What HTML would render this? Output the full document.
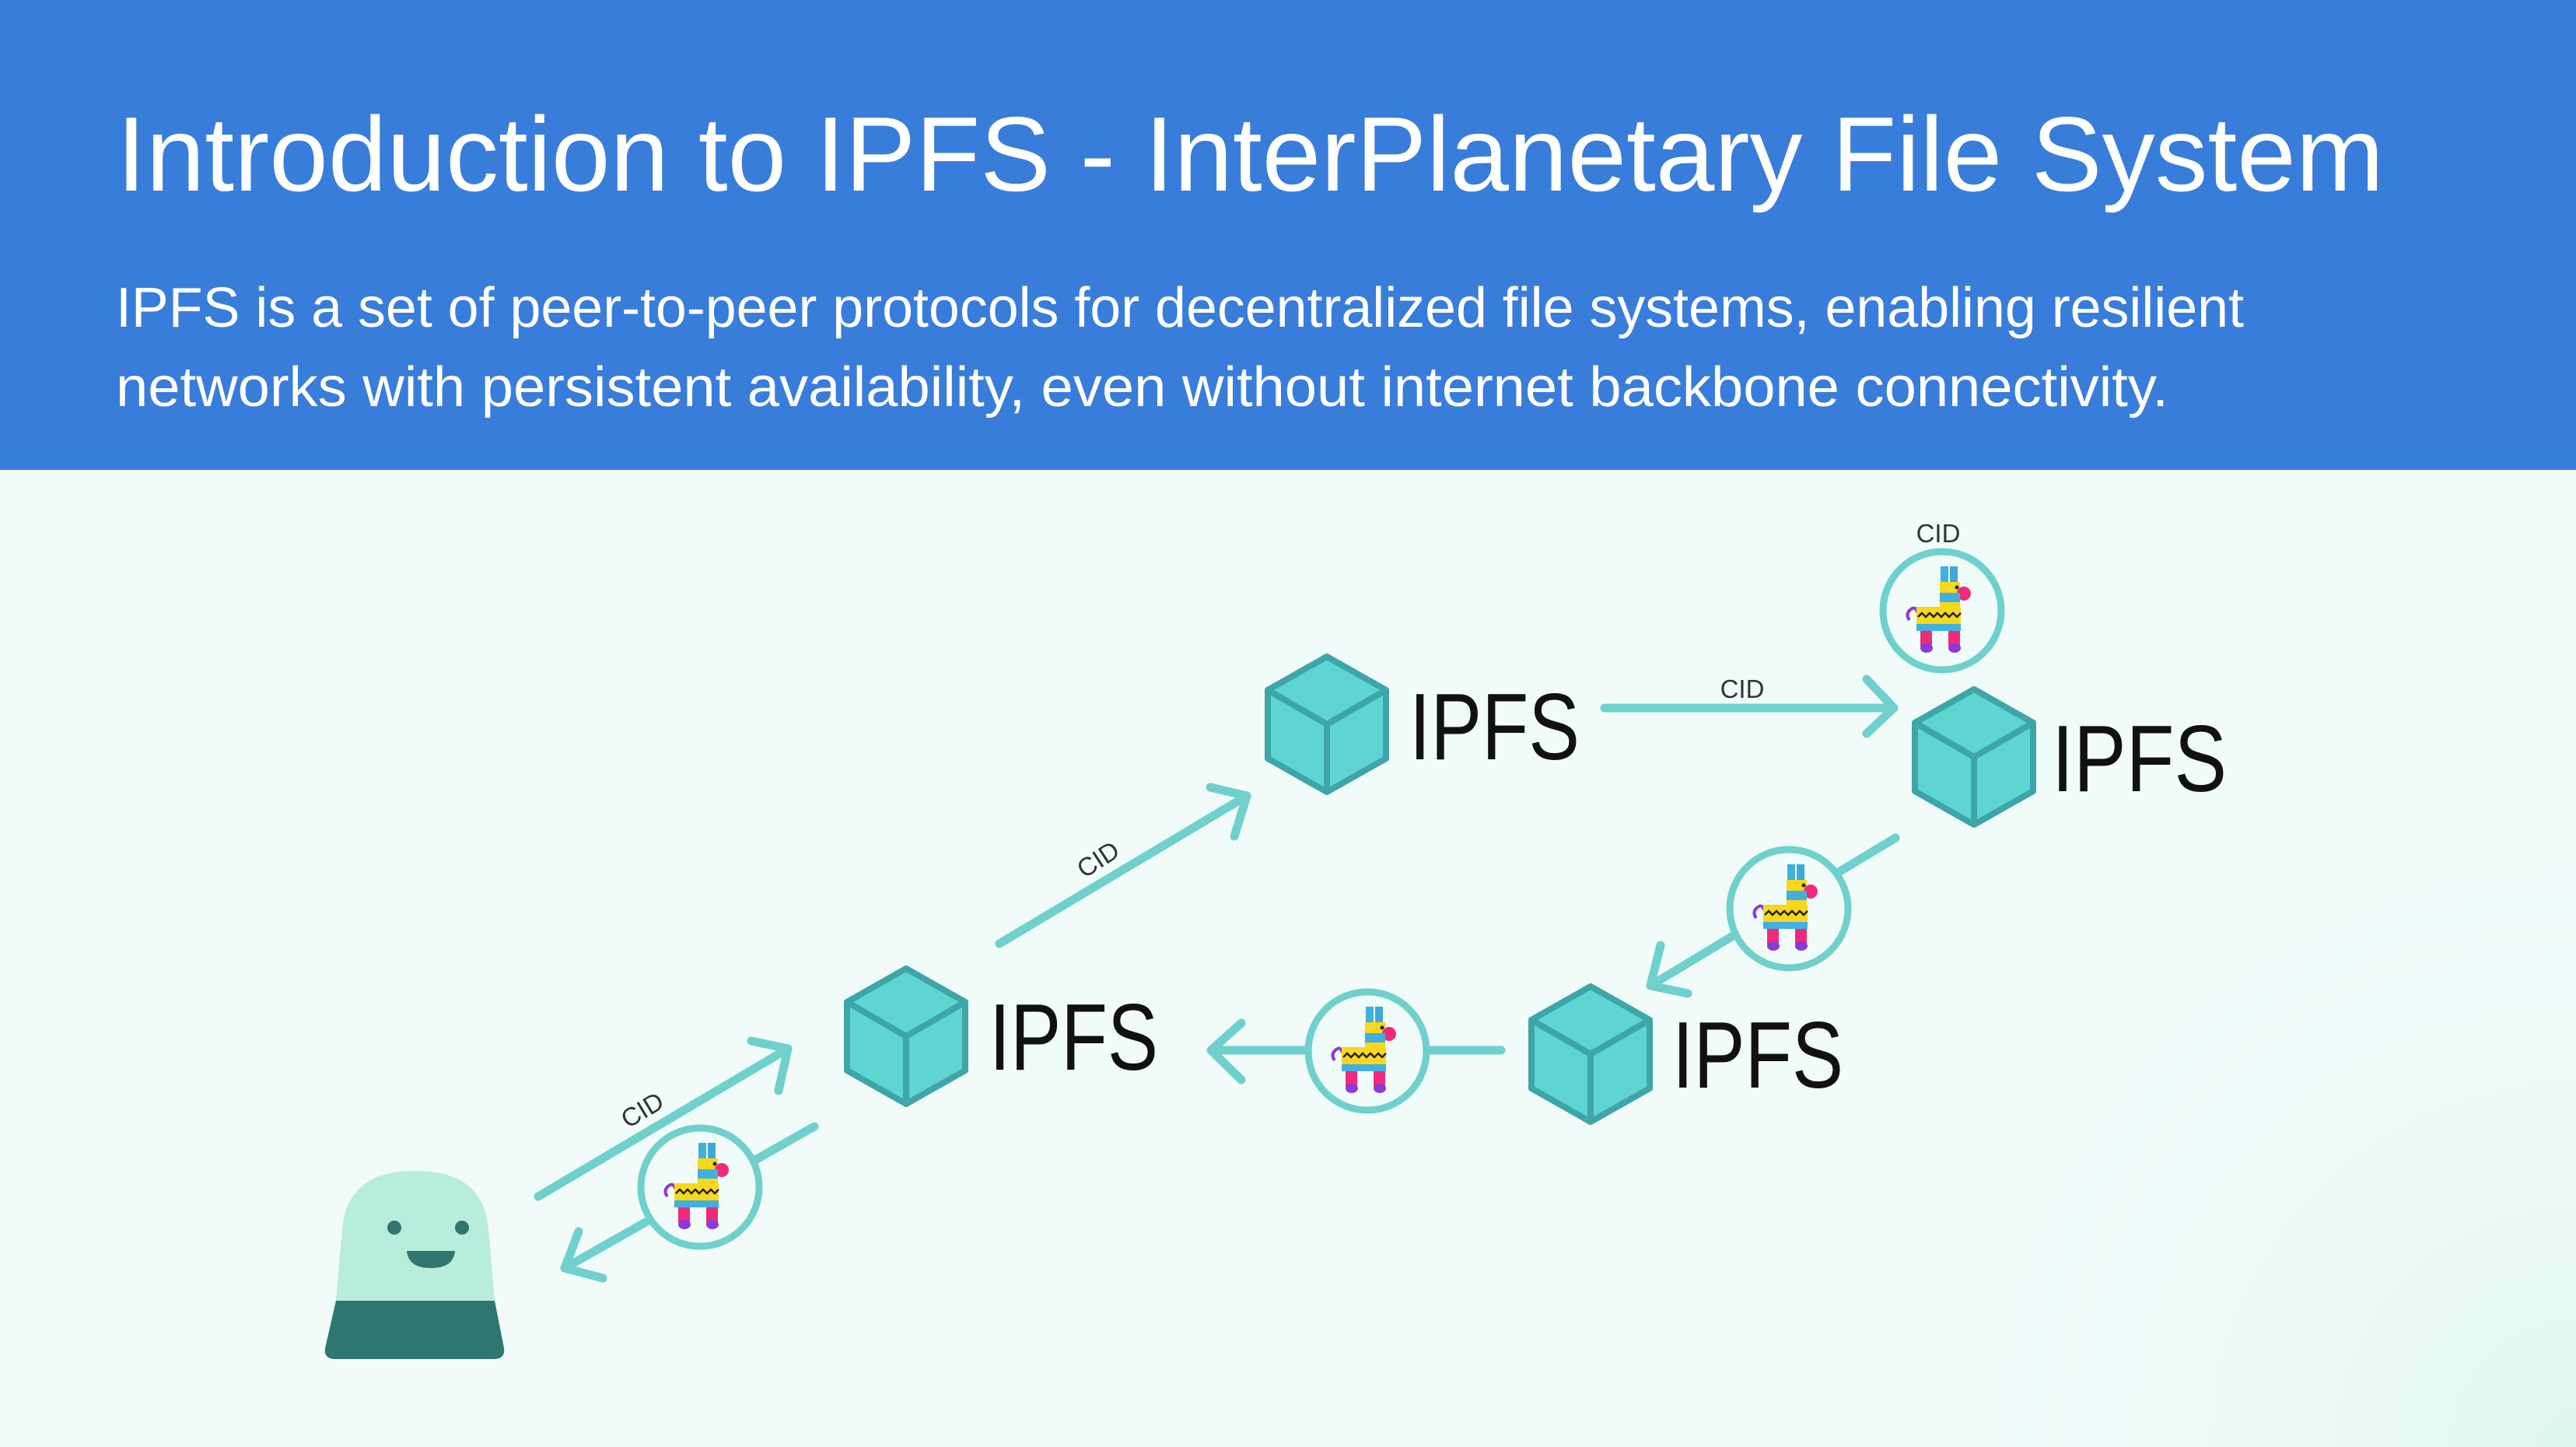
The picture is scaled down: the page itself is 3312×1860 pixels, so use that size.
<!DOCTYPE html>
<html><head><meta charset="utf-8"><style>
html,body{margin:0;padding:0;width:3312px;height:1860px;overflow:hidden;background:#f0fbfa}
svg{display:block}
</style></head><body>
<svg width="3312" height="1860" viewBox="0 0 3312 1860" xmlns="http://www.w3.org/2000/svg">
<defs>
<radialGradient id="bgw" cx="3312" cy="1860" r="900" gradientUnits="userSpaceOnUse">
<stop offset="0" stop-color="#dff6ef"/><stop offset="1" stop-color="#f0fbfa" stop-opacity="0"/>
</radialGradient>
<g id="cube">
<polygon points="0,-87 76,-44 76,44 0,87 -76,44 -76,-44" fill="#5fd5d2" stroke="#3ea5a8" stroke-width="8" stroke-linejoin="round"/>
<polyline points="-76,-44 0,0 76,-44" fill="none" stroke="#3ea5a8" stroke-width="8"/>
<line x1="0" y1="0" x2="0" y2="87" stroke="#3ea5a8" stroke-width="8"/>
</g>
<g id="llama">
<path d="M-40,-2 q-8,6 -2,14 M-40,-2 q6,-4 8,4" stroke="#8a3ad6" stroke-width="4" fill="none"/>
<rect x="-2" y="-57" width="10" height="22" fill="#3fb0e0"/>
<rect x="10" y="-57" width="10" height="22" fill="#3fa8d8"/>
<rect x="-3" y="-37" width="26" height="14" fill="#f9d71c"/>
<circle cx="28" cy="-22" r="9" fill="#ee2b7b"/>
<rect x="-3" y="-23" width="26" height="12" fill="#3fb0e0"/>
<rect x="-3" y="-11" width="26" height="8" fill="#f9d71c"/>
<rect x="-33" y="-5" width="57" height="22" fill="#f9d71c"/>
<path d="M-31,8 l5,-5 l5,5 l5,-5 l5,5 l5,-5 l5,5 l5,-5 l5,5 l5,-5 l5,5 l5,-5" stroke="#222" stroke-width="2.5" fill="none"/>
<rect x="-33" y="17" width="57" height="9" fill="#3fb0e0"/>
<rect x="-28" y="26" width="15" height="20" fill="#ee2b7b"/>
<rect x="8" y="26" width="15" height="20" fill="#ee2b7b"/>
<ellipse cx="-20" cy="48" rx="8" ry="6" fill="#8a3ad6"/>
<ellipse cx="16" cy="48" rx="8" ry="6" fill="#8a3ad6"/>
<circle cx="19" cy="-30" r="2.5" fill="#222"/>
</g>
</defs>
<rect x="0" y="604" width="3312" height="1256" fill="#f0fbfa"/>
<rect x="0" y="604" width="3312" height="1256" fill="url(#bgw)"/>
<rect x="0" y="0" width="3312" height="604" fill="#397ddb"/>
<text x="150" y="245" font-family="Liberation Sans, sans-serif" font-size="136" fill="#fff" textLength="2915" lengthAdjust="spacingAndGlyphs">Introduction to IPFS - InterPlanetary File System</text>
<text x="149" y="420" font-family="Liberation Sans, sans-serif" font-size="72" fill="#fff" textLength="2736" lengthAdjust="spacingAndGlyphs">IPFS is a set of peer-to-peer protocols for decentralized file systems, enabling resilient</text>
<text x="149" y="522" font-family="Liberation Sans, sans-serif" font-size="72" fill="#fff" textLength="2639" lengthAdjust="spacingAndGlyphs">networks with persistent availability, even without internet backbone connectivity.</text>

<g stroke="#6fd0cd" stroke-width="11" stroke-linecap="round" stroke-linejoin="round" fill="none">
<line x1="692" y1="1538" x2="1013" y2="1348"/><polyline points="966,1338 1013,1348 1001,1402"/>
<line x1="1047" y1="1448" x2="726" y2="1630"/><polyline points="744,1583 726,1630 775,1643"/>
<line x1="1285" y1="1213" x2="1603" y2="1023"/><polyline points="1556,1012 1603,1023 1587,1075"/>
<line x1="2063" y1="910" x2="2435" y2="910"/><polyline points="2400,873 2435,910 2400,943"/>
<line x1="2437" y1="1077" x2="2122" y2="1267"/><polyline points="2135,1215 2122,1267 2170,1277"/>
<line x1="1930" y1="1350" x2="1557" y2="1350"/><polyline points="1596,1315 1557,1350 1596,1388"/>
</g>
<g fill="#f0fbfa" stroke="#6fd0cd" stroke-width="9">
<circle cx="900" cy="1526" r="76"/>
<circle cx="2497" cy="785" r="76"/>
<circle cx="2300" cy="1168" r="76"/>
<circle cx="1758" cy="1351" r="76"/>
</g>
<use href="#llama" x="900" y="1526"/>
<use href="#llama" x="2497" y="785"/>
<use href="#llama" x="2300" y="1168"/>
<use href="#llama" x="1758" y="1351"/>

<g font-family="Liberation Sans, sans-serif" font-size="33" fill="#333" text-anchor="middle">
<text x="2492" y="697">CID</text>
<text x="2240" y="897">CID</text>
<text transform="translate(1412,1105) rotate(-33)" y="11">CID</text>
<text transform="translate(826,1427) rotate(-31)" y="11">CID</text>
</g>

<use href="#cube" x="1165" y="1332"/>
<use href="#cube" x="1706" y="931"/>
<use href="#cube" x="2538" y="973"/>
<use href="#cube" x="2045" y="1355"/>
<g font-family="Liberation Sans, sans-serif" font-size="122" fill="#111">
<text x="1272" y="1375" textLength="217" lengthAdjust="spacingAndGlyphs">IPFS</text>
<text x="1812" y="976" textLength="219" lengthAdjust="spacingAndGlyphs">IPFS</text>
<text x="2638" y="1017" textLength="225" lengthAdjust="spacingAndGlyphs">IPFS</text>
<text x="2150" y="1398" textLength="220" lengthAdjust="spacingAndGlyphs">IPFS</text>
</g>

<path d="M432,1672 L440,1580 Q446,1505 534,1505 Q622,1505 628,1580 L636,1672 Z" fill="#b8ecdc"/>
<path d="M432,1672 L636,1672 L648,1733 Q650,1747 634,1747 L432,1747 Q416,1747 418,1733 Z" fill="#2f7670"/>
<circle cx="507" cy="1578" r="9" fill="#2f7670"/>
<circle cx="594" cy="1578" r="9" fill="#2f7670"/>
<path d="M523,1608 L585,1608 Q583,1630 554,1630 Q525,1630 523,1608 Z" fill="#2f7670"/>
</svg>
</body></html>
